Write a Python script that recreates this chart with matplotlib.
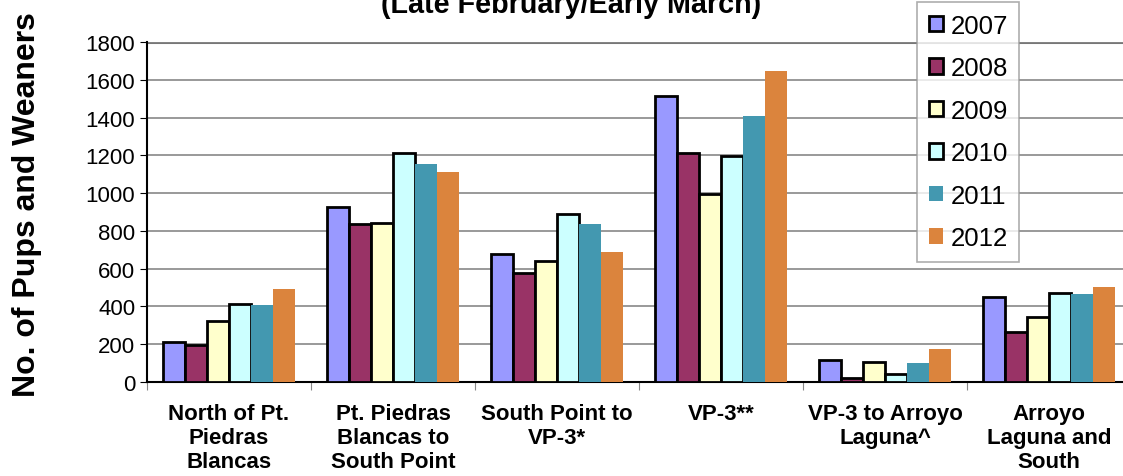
import numpy as np
import matplotlib
matplotlib.use("Agg")
import matplotlib.pyplot as plt

plt.rcParams['font.family'] = ['Liberation Sans', 'DejaVu Sans']

categories = ["North of Pt.\nPiedras\nBlancas", "Pt. Piedras\nBlancas to\nSouth Point",
              "South Point to\nVP-3*", "VP-3**", "VP-3 to Arroyo\nLaguna^",
              "Arroyo\nLaguna and\nSouth"]
years = ["2007", "2008", "2009", "2010", "2011", "2012"]
counts = {
    "2007": [210, 925, 680, 1516, 115, 450],
    "2008": [196, 835, 575, 1211, 21, 265],
    "2009": [325, 840, 640, 997, 108, 345],
    "2010": [413, 1215, 890, 1195, 44, 470],
    "2011": [410, 1155, 835, 1410, 100, 465],
    "2012": [492, 1110, 690, 1648, 176, 505],
}
colors = ["#9999FF", "#993366", "#FFFFCC", "#CCFFFF", "#4398B0", "#DB843D"]
edged = [True, True, True, True, False, False]

fig = plt.figure(figsize=(11.23, 4.77), dpi=100)
ax = fig.add_axes([147/1123, 1 - 383/477, 984/1123, 340/477])

x = np.arange(len(categories))
w = 0.8 / len(years)
for i, yr in enumerate(years):
    pos = x - 0.4 + w * (i + 0.5)
    if edged[i]:
        ax.bar(pos, counts[yr], w, color=colors[i], edgecolor="black", linewidth=2,
               label=yr, zorder=3)
    else:
        ax.bar(pos, counts[yr], w, color=colors[i], edgecolor="none", label=yr, zorder=3)

ax.set_xlim(-0.5, len(categories) - 0.5)
ax.set_ylim(0, 1800)
ax.set_yticks(range(0, 1801, 200))
ax.tick_params(axis="y", labelsize=16, direction="out", length=5)
ax.set_xticks(np.arange(-0.5, len(categories), 1.0))
ax.set_xticklabels([])
ax.tick_params(axis="x", direction="out", length=6, color="#888888")
ax.set_xticks(x, minor=True)
ax.set_xticklabels(categories, minor=True, fontsize=16, fontweight="bold", va="top",
                   linespacing=1.2)
ax.tick_params(axis="x", which="minor", length=0, pad=15)

ax.grid(axis="y", color="#888888", linewidth=1.2, zorder=0)
ax.axhline(1800, color="#777777", linewidth=2.2, zorder=1)
for s in ["top", "right"]:
    ax.spines[s].set_visible(False)
ax.spines["left"].set_linewidth(1.5)
ax.spines["bottom"].set_linewidth(1.5)

ax.set_ylabel("No. of Pups and Weaners", fontsize=23, fontweight="bold")
ax.yaxis.set_label_coords(42/1123, 1 - 205/477, transform=fig.transFigure)

# only the second title line is visible in the original, the first is cut off
fig.text(571.5/1123, 1 - 13/477, "(Late February/Early March)", ha="center", va="baseline",
         fontsize=20.7, fontweight="bold")

leg = ax.legend(loc="upper left", bbox_to_anchor=(917/1123, 1 - 3/477),
                bbox_transform=fig.transFigure, fontsize=18.5, frameon=True, fancybox=False,
                edgecolor="#999999", handlelength=0.55, handleheight=0.55, handletextpad=0.3,
                labelspacing=0.72, borderpad=0.45, borderaxespad=0)
leg.get_frame().set_linewidth(1.2)

fig.savefig("out.png", dpi=100)
